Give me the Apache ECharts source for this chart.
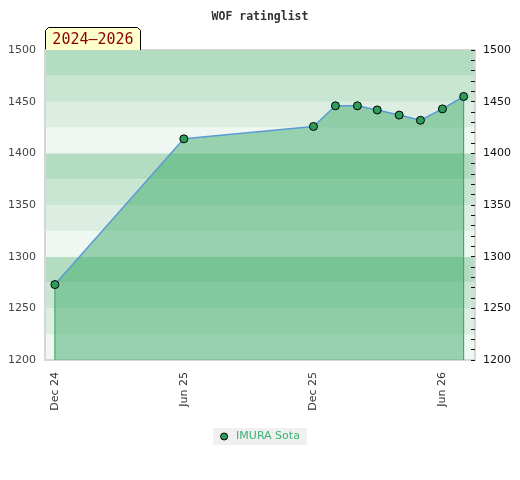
<!DOCTYPE html>
<html>
<head>
<meta charset="utf-8">
<script src="https://cdn.jsdelivr.net/npm/echarts@6/dist/echarts.min.js"></script>
<style>
  html, body { margin: 0; padding: 0; background: #fff; }
  #chart { width: 520px; height: 480px; }
</style>
</head>
<body>
<div id="chart"></div>
<script>
// 数据
var player_name = 'IMURA Sota';
var rating_dates = ['2024-12-01', '2025-06-01', '2025-12-01', '2026-01-01', '2026-02-01',
                    '2026-03-01', '2026-04-01', '2026-05-01', '2026-06-01', '2026-07-01'];
var rating_values = [1273, 1414, 1426, 1446, 1446, 1442, 1437, 1432, 1443, 1455];

// x轴刻度
var tick_dates = ['2024-12-01', '2025-06-01', '2025-12-01', '2026-06-01'];
var tick_labels = ['Dec 24', 'Jun 25', 'Dec 25', 'Jun 26'];

// 背景条纹，从下往上
var band_colors = ['#eef7f1', '#dceee2', '#c9e6d3', '#b3dcc1'];

var x_min_date = '2024-11-17', x_max_date = '2026-07-17';
var y_min = 1200, y_max = 1500;

function toTime(d) { return +new Date(d + 'T00:00:00Z'); }

// 首尾两点向下的竖线
function dropLine(t, v) {
    return {
        type: 'line',
        data: [[t, y_min], [t, v]],
        symbol: 'none',
        silent: true,
        lineStyle: { color: '#2e9e5a', width: 1 },
        z: 4
    };
}

function showRatingChart(figure_id) {
    var tick_times = tick_dates.map(toTime);
    var times = rating_dates.map(toTime);
    var points = [];
    for (var i = 0; i < times.length; i++) {
        points.push([times[i], rating_values[i]]);
    }
    var last = times.length - 1;

    var option = {
        animation: false,
        title: {
            text: 'WOF ratinglist',
            left: 'center',
            top: 6,
            textStyle: {
                fontFamily: 'DejaVu Sans Mono',
                fontSize: 11.5,
                fontWeight: 'bold',
                color: '#333'
            }
        },
        grid: {
            left: 45,
            right: 45,
            top: 50,
            bottom: 120,
            show: true,
            borderColor: '#d6d6d6',
            borderWidth: 2,
            backgroundColor: 'transparent'
        },
        legend: {
            top: 428,
            left: 'center',
            backgroundColor: '#f0f0f0',
            padding: [3, 7, 3, 7],
            icon: 'circle',
            itemWidth: 14,
            itemHeight: 7,
            itemStyle: {
                color: '#2e9e5a',
                borderColor: '#000',
                borderWidth: 1
            },
            textStyle: {
                color: '#3cb371',
                fontFamily: 'DejaVu Sans',
                fontSize: 11
            },
            data: [player_name]
        },
        xAxis: {
            type: 'value',
            min: toTime(x_min_date),
            max: toTime(x_max_date),
            splitLine: { show: false },
            axisLine: { lineStyle: { color: '#d6d6d6', width: 2 } },
            axisTick: { show: false },
            axisLabel: {
                customValues: tick_times,
                rotate: 90,
                margin: 12,
                color: '#333',
                fontFamily: 'DejaVu Sans',
                fontSize: 11,
                formatter: function (val) {
                    var idx = tick_times.indexOf(+val);
                    return idx >= 0 ? tick_labels[idx] : '';
                }
            }
        },
        yAxis: [{
            type: 'value',
            position: 'left',
            min: y_min,
            max: y_max,
            interval: 50,
            splitLine: { show: false },
            axisLine: { show: true, lineStyle: { color: '#d6d6d6', width: 2 } },
            axisTick: { show: false },
            axisLabel: {
                margin: 9,
                color: '#444',
                fontFamily: 'DejaVu Sans',
                fontSize: 11,
                formatter: function (v) { return String(v); }
            }
        }, {
            type: 'value',
            position: 'right',
            min: y_min,
            max: y_max,
            interval: 50,
            splitLine: { show: false },
            axisLine: { show: true, lineStyle: { color: '#d6d6d6', width: 2 } },
            axisTick: { show: true, inside: true, length: 4, lineStyle: { color: '#111' } },
            minorTick: { show: true, splitNumber: 5, length: 4, lineStyle: { color: '#111' } },
            axisLabel: {
                margin: 8,
                color: '#111',
                fontFamily: 'DejaVu Sans',
                fontSize: 11,
                formatter: function (v) { return String(v); }
            }
        }, {
            // 只用来画背景条纹
            type: 'value',
            position: 'left',
            min: y_min,
            max: y_max,
            interval: 25,
            axisLine: { show: false },
            axisTick: { show: false },
            axisLabel: { show: false },
            splitLine: { show: false },
            splitArea: { show: true, areaStyle: { color: band_colors } }
        }],
        graphic: [{
            type: 'group',
            left: 45,
            top: 27,
            z: 100,
            children: [{
                type: 'polygon',
                shape: { points: [[0, 24], [0, 3], [3, 0], [92, 0], [95, 3], [95, 24]] },
                style: { fill: '#ffffcc', stroke: '#000', lineWidth: 1 }
            }, {
                type: 'text',
                x: 47.5,
                y: 13,
                style: {
                    text: '2024–2026',
                    fill: '#8b0000',
                    font: '15px "DejaVu Sans Mono"',
                    align: 'center',
                    verticalAlign: 'middle'
                }
            }]
        }],
        series: [{
            name: player_name,
            type: 'line',
            yAxisIndex: 0,
            data: points,
            symbol: 'circle',
            symbolSize: 8,
            itemStyle: { color: '#2e9e5a', borderColor: '#000', borderWidth: 1 },
            lineStyle: { color: '#5b9bd5', width: 1.5 },
            areaStyle: { color: '#40ac6a', opacity: 0.5, origin: 'start' },
            z: 5
        },
        dropLine(times[0], rating_values[0]),
        dropLine(times[last], rating_values[last])
        ]
    };
    var chart = echarts.init(document.getElementById(figure_id));
    chart.setOption(option);
}

showRatingChart('chart');
</script>
</body>
</html>
